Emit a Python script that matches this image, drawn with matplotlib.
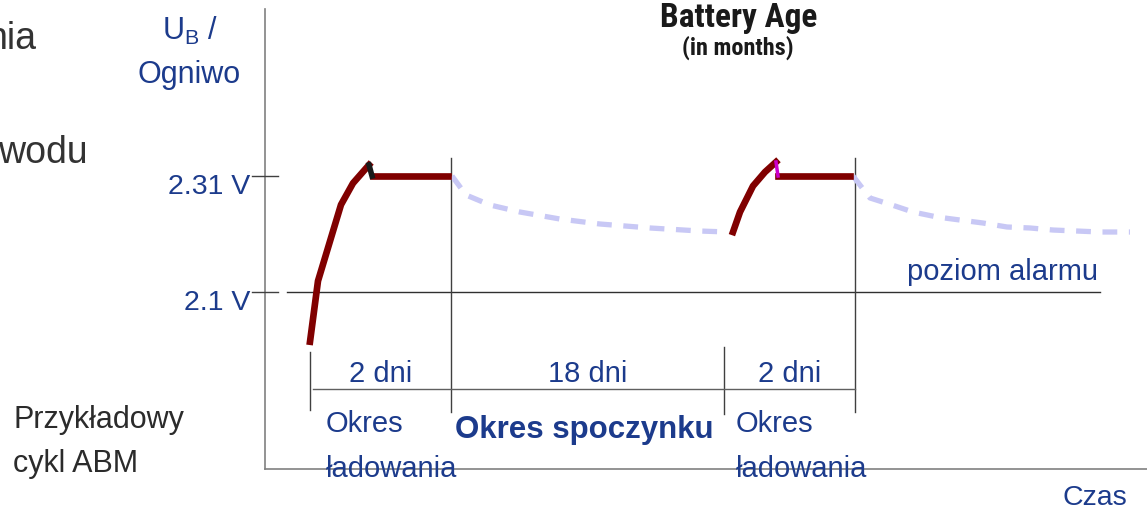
#!/usr/bin/env python3
# ABM charge cycle schematic: U_B per cell vs time
import numpy as np
import matplotlib
matplotlib.use('Agg')
import matplotlib.pyplot as plt
from matplotlib import font_manager

plt.rcParams['font.family'] = ['Liberation Sans', 'DejaVu Sans']
plt.rcParams['mathtext.fontset'] = 'custom'
plt.rcParams['mathtext.rm'] = 'Liberation Sans'

# time in arbitrary units (schematic, not to scale), voltage in V per cell
charge1_t = [3.10, 3.18, 3.41, 3.53, 3.69]
charge1_u = [2.010, 2.120, 2.258, 2.297, 2.330]
step1_t = [3.69, 3.72]
step1_u = [2.330, 2.310]
hold1_t = [3.73, 4.48]
hold1_u = [2.31, 2.31]
rest1_t = [4.52, 4.66, 4.90, 5.20, 5.60, 6.00, 6.50, 7.00, 7.28]
rest1_u = [2.3100, 2.2756, 2.2575, 2.2448, 2.2321, 2.2231, 2.2159, 2.2104, 2.2086]

charge2_t = [7.33, 7.40, 7.53, 7.65, 7.76]
charge2_u = [2.2086, 2.2448, 2.2919, 2.3172, 2.3353]
step2_t = [7.76, 7.78]
step2_u = [2.3353, 2.310]
hold2_t = [7.78, 8.50]
hold2_u = [2.31, 2.31]
rest2_t = [8.53, 8.70, 8.92, 9.13, 9.37, 9.60, 9.83, 10.07, 10.30, 10.53, 10.77, 11.00, 11.30]
rest2_u = [2.3100, 2.2702, 2.2575, 2.2448, 2.2358, 2.2303, 2.2249, 2.2177, 2.2159,
           2.2122, 2.2104, 2.2086, 2.2086]

u_levels = [2.31, 2.1]
u_labels = ['2.31 V', '2.1 V']
phase_bounds = [3.10, 4.51, 7.24, 8.55]
phase_labels = ['2 dni', '18 dni', '2 dni']

blue = '#1c3b8c'
dark = '#2b2b2b'
gray = '#808080'

# narrow font for the "Battery Age" badge, if one is installed
installed = {f.name for f in font_manager.fontManager.ttflist}
narrow = next((n for n in ['Liberation Sans Narrow', 'DejaVu Sans Condensed',
                           'Roboto Condensed', 'Open Sans Condensed'] if n in installed), None)


def vy(py):
    # pixel row -> volts (layout helper)
    return 2.31 - (py - 176) / 552.4


fig = plt.figure(figsize=(11.47, 5.09), dpi=100)
ax = fig.add_axes([0, 0, 1, 1])
ax.set_xlim(0, 11.47)
ax.set_ylim(vy(509), vy(0))
ax.axis('off')

# axes
ax.plot([2.65, 2.65], [vy(9), vy(469)], color=gray, lw=1.2)
ax.plot([2.65, 11.47], [vy(469), vy(469)], color=gray, lw=1.2)
for u, lab in zip(u_levels, u_labels):
    ax.plot([2.52, 2.78], [u, u], color='#404040', lw=1.0)
    ax.text(2.50, u - 0.032, lab, ha='right', va='baseline', fontsize=20.5, color=blue)
ax.plot([2.87, 11.00], [u_levels[1], u_levels[1]], color='#303030', lw=1.0)

# phase dividers
ax.plot([phase_bounds[0]] * 2, [vy(352), vy(410)], color='#404040', lw=1.0)
ax.plot([phase_bounds[1]] * 2, [vy(158), vy(412)], color='#404040', lw=1.0)
ax.plot([phase_bounds[2]] * 2, [vy(347), vy(414)], color='#404040', lw=1.0)
ax.plot([phase_bounds[3]] * 2, [vy(158), vy(412)], color='#404040', lw=1.0)
ax.plot([phase_bounds[0] + 0.03, phase_bounds[3]], [vy(389), vy(389)], color='#606060', lw=1.0)
for i, lab in enumerate(phase_labels):
    xc = (phase_bounds[i] + phase_bounds[i + 1]) / 2
    ax.text(xc, vy(382), lab, ha='center', va='baseline', fontsize=21, color=blue)

# curves
dash_kw = dict(color='#c8c8f5', lw=3.8, dashes=(2.8, 2.2), solid_capstyle='round')
ax.plot(rest1_t, rest1_u, **dash_kw)
ax.plot(rest2_t, rest2_u, **dash_kw)
red_kw = dict(color='#800000', lw=4.8, solid_joinstyle='round')
ax.plot(charge1_t, charge1_u, **red_kw)
ax.plot(hold1_t, hold1_u, **red_kw)
ax.plot(step1_t, step1_u, color='#1a1a1a', lw=4.0)
ax.plot(charge2_t, charge2_u, **red_kw)
ax.plot(hold2_t, hold2_u, **red_kw)
ax.plot(step2_t, step2_u, color='#cc00cc', lw=2.5)

# labels
ax.text(0.36, vy(49), 'nia', ha='right', va='baseline', fontsize=27, color='#333333')
ax.text(0.88, vy(163), 'wodu', ha='right', va='baseline', fontsize=27, color='#333333')
ax.text(1.90, vy(40), r'U$_{\mathrm{B}}$ /', ha='center', va='baseline', fontsize=22, color=blue)
ax.text(1.89, vy(83), 'Ogniwo', ha='center', va='baseline', fontsize=22, color=blue)
if narrow:
    badge = dict(family=[narrow, 'DejaVu Sans'], big=24, small=17.5)
else:
    badge = dict(family=['Liberation Sans', 'DejaVu Sans'], big=20.5, small=14.5)
ax.text(7.39, vy(27), 'Battery Age', ha='center', va='baseline', fontsize=badge['big'],
        fontweight='bold', family=badge['family'], color='#1a1a1a')
ax.text(7.38, vy(55), '(in months)', ha='center', va='baseline', fontsize=badge['small'],
        fontweight='bold', family=badge['family'], color='#1a1a1a')
ax.text(9.07, vy(280), 'poziom alarmu', ha='left', va='baseline', fontsize=21, color=blue)
ax.text(3.26, vy(432), 'Okres', ha='left', va='baseline', fontsize=21, color=blue)
ax.text(3.26, vy(477), 'ładowania', ha='left', va='baseline', fontsize=21, color=blue)
ax.text(4.55, vy(438), 'Okres spoczynku', ha='left', va='baseline', fontsize=22.5,
        fontweight='bold', color=blue)
ax.text(7.36, vy(432), 'Okres', ha='left', va='baseline', fontsize=21, color=blue)
ax.text(7.36, vy(477), 'ładowania', ha='left', va='baseline', fontsize=21, color=blue)
ax.text(0.13, vy(428), 'Przykładowy', ha='left', va='baseline', fontsize=22, color=dark)
ax.text(0.13, vy(472), 'cykl ABM', ha='left', va='baseline', fontsize=22, color=dark)
ax.text(10.62, vy(505), 'Czas', ha='left', va='baseline', fontsize=20.5, color=blue)

fig.savefig('out.png', dpi=100)
